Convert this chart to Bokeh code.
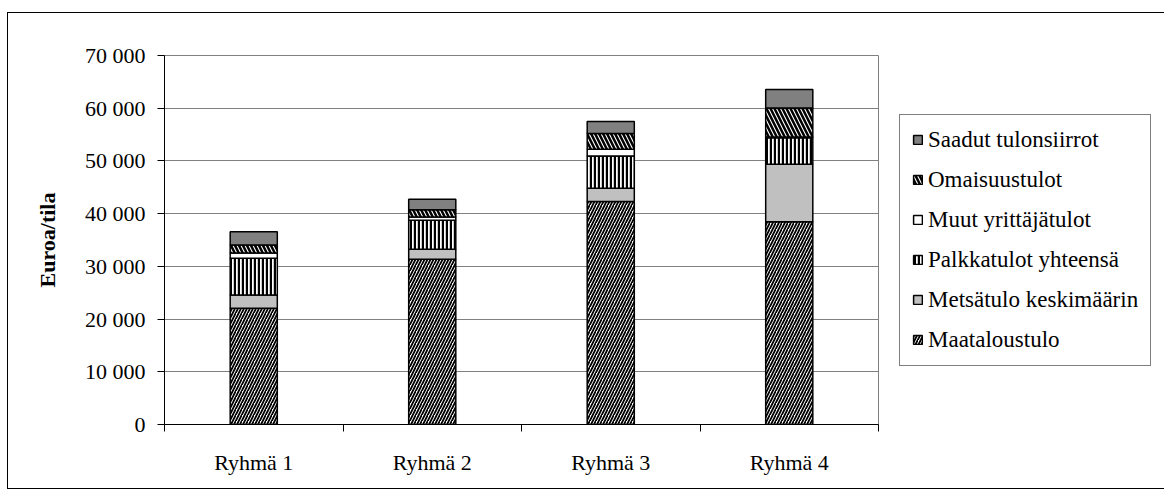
from bokeh.plotting import figure
from bokeh.models import Range1d, FixedTicker, Legend, LegendItem, ColumnDataSource
from bokeh.transform import stack
from bokeh.embed import file_html
from bokeh.resources import INLINE

# ---- data ----
groups = ["Ryhmä 1", "Ryhmä 2", "Ryhmä 3", "Ryhmä 4"]
maataloustulo = [22050, 31350, 42280, 38480]
metsatulo = [2520, 1890, 2540, 10890]
palkkatulot = [6970, 5510, 6130, 5050]
muut_yrittajatulot = [1000, 620, 1270, 100]
omaisuustulot = [1520, 1390, 2960, 5500]
saadut_tulonsiirrot = [2520, 1970, 2280, 3550]
series_labels = ["Maataloustulo", "Metsätulo keskimäärin", "Palkkatulot yhteensä",
                 "Muut yrittäjätulot", "Omaisuustulot", "Saadut tulonsiirrot"]
y_ticks = [0, 10000, 20000, 30000, 40000, 50000, 60000, 70000]
y_title = "Euroa/tila"

FONT = "Liberation Serif"

keys = ["s0", "s1", "s2", "s3", "s4", "s5"]
centers = [i + 0.5 for i in range(len(groups))]
boundaries = [float(i) for i in range(len(groups) + 1)]
src = ColumnDataSource(dict(x=centers, s0=maataloustulo, s1=metsatulo, s2=palkkatulot,
                            s3=muut_yrittajatulot, s4=omaisuustulot, s5=saadut_tulonsiirrot))

styles = [
    dict(fill_color="white", hatch_pattern="/", hatch_color="black", hatch_scale=6, hatch_weight=1.8),
    dict(fill_color="#C0C0C0"),
    dict(fill_color="white", hatch_pattern="|", hatch_color="black", hatch_scale=4, hatch_weight=2.4),
    dict(fill_color="white"),
    dict(fill_color="white", hatch_pattern="\\", hatch_color="black", hatch_scale=8, hatch_weight=2.5),
    dict(fill_color="#808080"),
]

p = figure(frame_width=714, frame_height=369,
           min_border_left=156, min_border_right=20, min_border_top=42, min_border_bottom=64,
           x_range=Range1d(0, len(groups)), y_range=Range1d(y_ticks[0], y_ticks[-1]),
           output_backend="svg", toolbar_location=None, tools="")
p.margin = (13, 0, 0, 8)
p.styles = {"outline": "1px solid black", "outline-offset": "0px"}
p.background_fill_color = "white"
p.border_fill_color = "white"
p.outline_line_color = "#808080"
p.outline_line_width = 1

renderers = []
for i, k in enumerate(keys):
    r = p.vbar(x="x", width=0.264, bottom=stack(*keys[:i]) if i else 0, top=stack(*keys[:i + 1]),
               source=src, line_color="black", line_width=1.5, **styles[i])
    renderers.append(r)

# y axis
yax = p.yaxis[0]
yax.ticker = FixedTicker(ticks=y_ticks)
yax.major_label_overrides = {t: f"{t:,}".replace(",", " ") for t in y_ticks}
yax.major_label_text_font = FONT
yax.major_label_text_font_size = "22px"
yax.major_label_text_color = "black"
yax.major_tick_out = 7
yax.major_tick_in = 0
yax.minor_tick_line_color = None
yax.major_label_standoff = 12
yax.axis_line_color = "black"
yax.major_tick_line_color = "black"
yax.axis_label = y_title
yax.axis_label_text_font = FONT
yax.axis_label_text_font_style = "bold"
yax.axis_label_text_font_size = "22px"
yax.axis_label_text_color = "black"
yax.axis_label_standoff = 22

# x axis
xax = p.xaxis[0]
xax.ticker = FixedTicker(ticks=centers, minor_ticks=boundaries)
xax.major_label_overrides = {c: g for c, g in zip(centers, groups)}
xax.major_label_text_font = FONT
xax.major_label_text_font_size = "22px"
xax.major_label_text_color = "black"
xax.major_tick_line_color = None
xax.major_tick_out = 0
xax.major_tick_in = 0
xax.minor_tick_line_color = "black"
xax.minor_tick_out = 7
xax.minor_tick_in = 0
xax.major_label_standoff = 18
xax.axis_line_color = "black"

p.xgrid.grid_line_color = None
p.ygrid.grid_line_color = "#808080"
p.ygrid.grid_line_width = 1

items = [LegendItem(label=series_labels[i], renderers=[renderers[i]]) for i in reversed(range(len(keys)))]
legend = Legend(items=items, location="center_left")
legend.label_text_font = FONT
legend.label_text_font_size = "23px"
legend.label_text_color = "black"
legend.glyph_width = 11
legend.glyph_height = 11
legend.label_height = 25
legend.label_standoff = 5
legend.spacing = 14
legend.padding = 12
legend.margin = 21
legend.border_line_color = "black"
legend.border_line_width = 1
legend.background_fill_color = "white"
legend.background_fill_alpha = 1
p.add_layout(legend, "right")

open("out.html", "w").write(file_html(p, INLINE))
